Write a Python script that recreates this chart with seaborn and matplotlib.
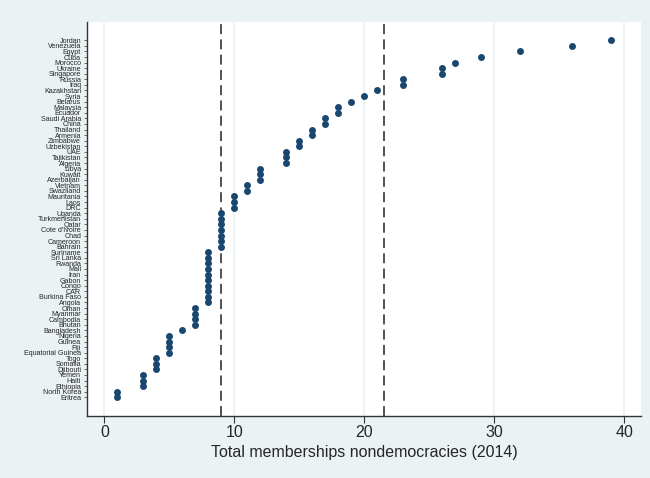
import pandas as pd
import seaborn as sns
import matplotlib.pyplot as plt

# countries from top to bottom, with their membership counts
countries = [
    "Jordan", "Venezuela", "Egypt", "Cuba", "Morocco", "Ukraine", "Singapore",
    "Russia", "Iraq", "Kazakhstan", "Syria", "Belarus", "Malaysia", "Ecuador",
    "Saudi Arabia", "China", "Thailand", "Armenia", "Zimbabwe", "Uzbekistan",
    "UAE", "Tajikistan", "Algeria", "Libya", "Kuwait", "Azerbaijan", "Vietnam",
    "Swaziland", "Mauritania", "Laos", "DRC", "Uganda", "Turkmenistan", "Qatar",
    "Cote d'Ivoire", "Chad", "Cameroon", "Bahrain", "Suriname", "Sri Lanka",
    "Rwanda", "Mali", "Iran", "Gabon", "Congo", "CAR", "Burkina Faso", "Angola",
    "Oman", "Myanmar", "Cambodia", "Bhutan", "Bangladesh", "Nigeria", "Guinea",
    "Fiji", "Equatorial Guinea", "Togo", "Somalia", "Djibouti", "Yemen", "Haiti",
    "Ethiopia", "North Korea", "Eritrea",
]
memberships = [
    39, 36, 32, 29, 27, 26, 26,
    23, 23, 21, 20, 19, 18, 18,
    17, 17, 16, 16, 15, 15,
    14, 14, 14, 12, 12, 12, 11,
    11, 10, 10, 10, 9, 9, 9,
    9, 9, 9, 9, 8, 8,
    8, 8, 8, 8, 8, 8, 8, 8,
    7, 7, 7, 7, 6, 5, 5,
    5, 5, 4, 4, 4, 3, 3,
    3, 1, 1,
]
ref_lines = [9, 21.5]
x_ticks = [0, 10, 20, 30, 40]

df = pd.DataFrame({"country": countries, "n": memberships})

bg = "#EAF2F3"
sns.set_theme(style="white")
plt.rcParams["font.family"] = ["Liberation Sans", "DejaVu Sans"]

fig = plt.figure(figsize=(6.5, 4.78), dpi=100, facecolor=bg)
ax = fig.add_axes([0.1343, 0.1303, 0.9862 - 0.1343, 0.9546 - 0.1303])
ax.set_facecolor("white")

for t in x_ticks:
    ax.axvline(t, color=bg, lw=1.2, zorder=0)
for v in ref_lines:
    ax.axvline(v, color="#222222", lw=1.1, linestyle=(0, (6.5, 3.5)), zorder=1)

sns.stripplot(data=df, x="n", y="country", order=countries, jitter=False,
              color="#1A476F", size=5, linewidth=0, ax=ax, zorder=3)

ax.set_xlim(-1.31, 41.28)
ax.set_ylim(67.3, -3.33)
ax.set_xticks(x_ticks)
ax.set_xlabel("Total memberships nondemocracies (2014)", fontsize=11.5, labelpad=3)
ax.set_ylabel("")
ax.tick_params(axis="x", labelsize=11.5, length=5, width=0.8, color="#333333", pad=2,
               bottom=True)
ax.tick_params(axis="y", labelsize=5.1, length=2.5, width=0.5, color="#333333", pad=2,
               left=True)

for side in ["top", "right"]:
    ax.spines[side].set_visible(False)
for side in ["left", "bottom"]:
    ax.spines[side].set_color("#333333")
    ax.spines[side].set_linewidth(1.0)

fig.savefig("out.png", dpi=100, facecolor=bg)
